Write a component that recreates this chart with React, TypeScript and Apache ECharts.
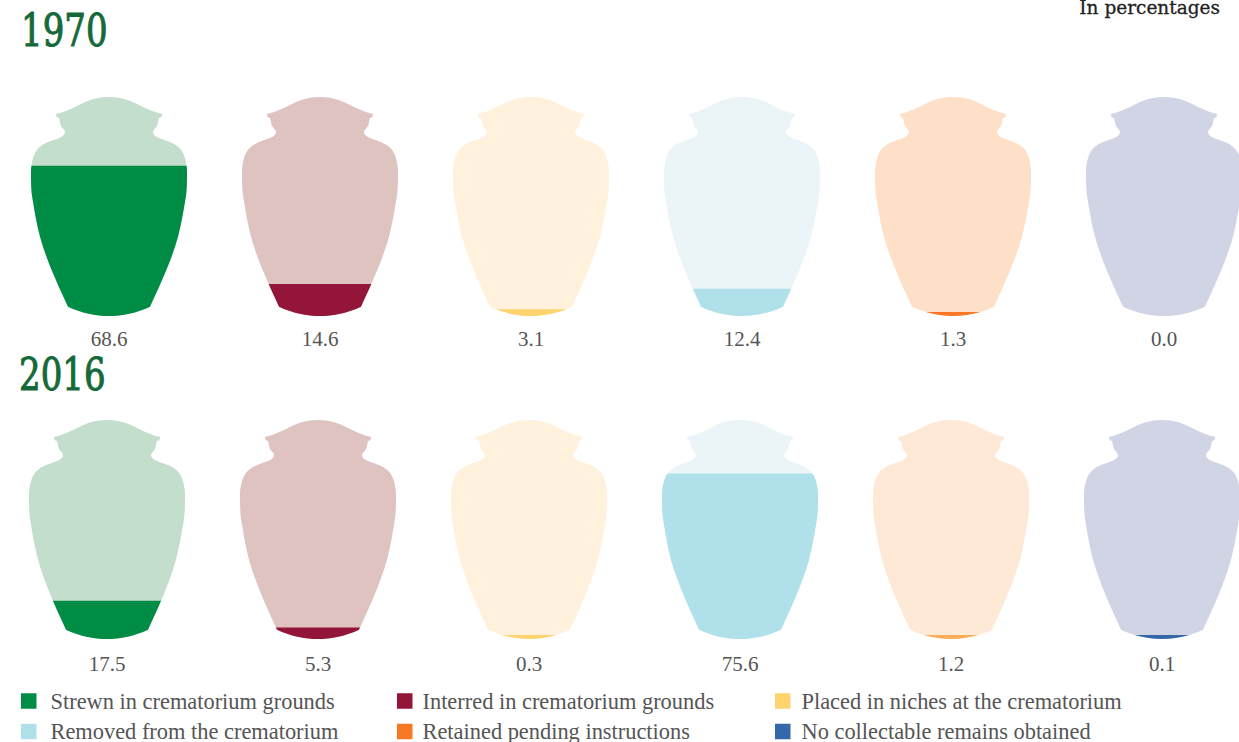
import React, { useEffect, useRef } from "react";
import * as echarts from "echarts";

// Share of remains by how they were handled, per year, in percent.
const years = ["1970", "2016"];
const handling = [
  "Strewn in crematorium grounds",
  "Interred in crematorium grounds",
  "Placed in niches at the crematorium",
  "Removed from the crematorium",
  "Retained pending instructions",
  "No collectable remains obtained",
];
const values1970 = [68.6, 14.6, 3.1, 12.4, 1.3, 0.0];
const values2016 = [17.5, 5.3, 0.3, 75.6, 1.2, 0.1];

const fillColors = ["#008C45", "#93163A", "#FFD36E", "#B0E1EB", "#F97825", "#3568A8"];
const urnColors1970 = ["#C4DECD", "#DFC3C1", "#FFF1DC", "#EBF5F8", "#FEDFC7", "#D1D4E5"];
const urnColors2016 = ["#C4DECD", "#DFC3C1", "#FFF1DC", "#EBF5F8", "#FEE9D6", "#D1D4E5"];
const fillColors2016 = ["#008C45", "#93163A", "#FFD36E", "#B0E1EB", "#FCAD5A", "#3568A8"];

// Urn outline in a 156 x 219 box.
const URN_PATH =
  "M78 0 C66 0 58 3 50 7 C42 11 34 15 24.7 17 L25.7 20.3 L28 21 C29 24 29 27 30 29 " +
  "C31 31 34 33 34 35 C34 38 31 39.7 28 41 C22 43.5 15 45 10 49 C3 54 1 62 0 73 " +
  "C0 85 0 95 1.7 103 C4 117 6 128 9 139.7 C16 165 28 190 37 209.7 C50 216 65 219 78 219 " +
  "C91 219 106 216 119 209.7 C128 190 140 165 147 139.7 C150 128 152 117 154.3 103 " +
  "C156 95 156 85 156 73 C155 62 153 54 146 49 C141 45 134 43.5 128 41 C125 39.7 122 38 122 35 " +
  "C122 33 125 31 126 29 C127 27 127 24 128 21 L130.3 20.3 L131.3 17 C122 15 114 11 106 7 " +
  "C98 3 90 0 78 0 Z";

const URN_ASPECT = 156 / 219;
// Very small non-zero shares keep a visible sliver at the bottom of the urn.
const MIN_FILL_PX = 4;

const LABEL_FONT = "'Liberation Serif', serif";
const TITLE_FONT = "'DejaVu Serif Condensed', 'DejaVu Serif', serif";

function urnRenderer(urnColor: string, fillColor: string) {
  return (_params: any, api: any) => {
    const index = api.value(0);
    const value = api.value(1);
    const [cx, baseY] = api.coord([index, 0]);
    const topY = api.coord([index, 100])[1];
    const levelY = api.coord([index, value])[1];
    const height = baseY - topY;
    const width = height * URN_ASPECT;
    const box = { x: cx - width / 2, y: topY, width, height };
    const fillHeight = value > 0 ? Math.max(baseY - levelY, MIN_FILL_PX) : 0;
    return {
      type: "group",
      children: [
        {
          type: "path",
          shape: { pathData: URN_PATH, layout: "cover", ...box },
          style: { fill: urnColor },
        },
        {
          type: "path",
          shape: { pathData: URN_PATH, layout: "cover", ...box },
          style: { fill: fillColor },
          clipPath: {
            type: "rect",
            shape: { x: box.x, y: baseY - fillHeight, width, height: fillHeight },
          },
        },
      ],
    };
  };
}

function yearSeries(
  gridIndex: number,
  values: number[],
  urnColors: string[],
  fills: string[],
) {
  return values.map((value, i) => ({
    type: "custom",
    name: handling[i],
    xAxisIndex: gridIndex,
    yAxisIndex: gridIndex,
    itemStyle: { color: fillColors[i] },
    encode: { x: 0, y: 1 },
    data: [[i, value]],
    renderItem: urnRenderer(urnColors[i], fills[i]),
  }));
}

function legendColumn(left: number, textGap: number, names: string[]) {
  return {
    left,
    top: 690,
    width: 400,
    height: 70,
    orient: "vertical",
    padding: 0,
    icon: "rect",
    itemWidth: 15.5,
    itemHeight: 15.5,
    itemGap: 8.5,
    selectedMode: false,
    data: names,
    textStyle: {
      fontFamily: LABEL_FONT,
      fontSize: 22.4,
      lineHeight: 15.5,
      color: "#555555",
      padding: [0, 0, 0, textGap],
    },
  };
}

function valueAxisLabels(values: number[]) {
  return values.map((v) => v.toFixed(1));
}

export default function App() {
  const ref = useRef<HTMLDivElement>(null);

  useEffect(() => {
    document.body.style.margin = "0";
    const chart = echarts.init(ref.current!, null, { renderer: "svg" });
    chart.setOption({
      animation: false,
      backgroundColor: "#ffffff",
      grid: [
        { left: 3.5, top: 97, width: 1266, height: 219, outerBoundsMode: "none" },
        { left: 1.5, top: 420, width: 1266, height: 219, outerBoundsMode: "none" },
      ],
      xAxis: [values1970, values2016].map((values, gridIndex) => ({
        type: "category",
        gridIndex,
        data: valueAxisLabels(values),
        axisLine: { show: false },
        axisTick: { show: false },
        axisLabel: {
          interval: 0,
          margin: gridIndex === 0 ? 12 : 14,
          fontFamily: LABEL_FONT,
          fontSize: 21,
          color: "#555555",
        },
      })),
      yAxis: [0, 1].map((gridIndex) => ({
        type: "value",
        gridIndex,
        min: 0,
        max: 100,
        show: false,
      })),
      legend: [
        legendColumn(21, 9, [handling[0], handling[3]]),
        legendColumn(397, 5, [handling[1], handling[4]]),
        legendColumn(775, 6, [handling[2], handling[5]]),
      ],
      graphic: [
        {
          type: "text",
          x: 21,
          y: 8,
          scaleX: 0.84,
          style: {
            text: years[0],
            font: `45px ${TITLE_FONT}`,
            fill: "#16693A",
            stroke: "#16693A",
            lineWidth: 1,
          },
        },
        {
          type: "text",
          x: 19,
          y: 352,
          scaleX: 0.84,
          style: {
            text: years[1],
            font: `45px ${TITLE_FONT}`,
            fill: "#16693A",
            stroke: "#16693A",
            lineWidth: 1,
          },
        },
        {
          type: "text",
          x: 1220,
          y: 0,
          style: {
            text: "In percentages",
            align: "right",
            font: "18.5px 'DejaVu Serif', serif",
            lineHeight: 14,
            fill: "#222222",
            stroke: "#222222",
            lineWidth: 0.3,
          },
        },
      ],
      series: [
        ...yearSeries(0, values1970, urnColors1970, fillColors),
        ...yearSeries(1, values2016, urnColors2016, fillColors2016),
      ],
    });
    return () => chart.dispose();
  }, []);

  return (
    <div
      ref={ref}
      style={{ position: "fixed", left: 0, top: 0, width: 1239, height: 742 }}
    />
  );
}
